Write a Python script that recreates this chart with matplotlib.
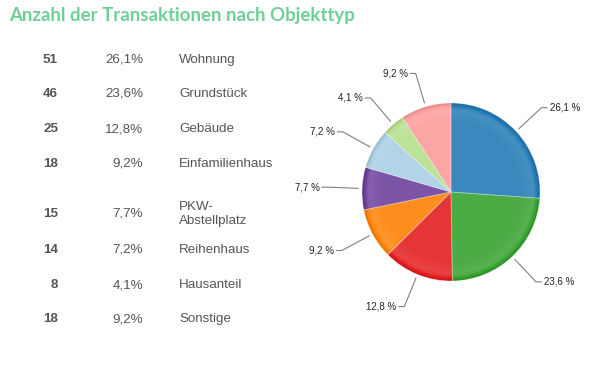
import numpy as np
import matplotlib.pyplot as plt
from matplotlib.colors import to_rgb

W, H = 592, 379

counts = [51, 46, 25, 18, 15, 14, 8, 18]
shares = [26.1, 23.6, 12.8, 9.2, 7.7, 7.2, 4.1, 9.2]
categories = ["Wohnung", "Grundstück", "Gebäude", "Einfamilienhaus",
              "PKW-\nAbstellplatz", "Reihenhaus", "Hausanteil", "Sonstige"]
colors = ["#1f78b4", "#33a02c", "#e31a1c", "#ff7f00",
          "#6a3d9a", "#a6cee3", "#b2df8a", "#fb9a99"]

title = "Anzahl der Transaktionen nach Objekttyp"


def px(x, y):
    return x / W, 1 - y / H


def shade(c, f):
    c = np.array(to_rgb(c))
    if f >= 0:
        return tuple(c + (1 - c) * f)
    return tuple(c * (1 + f))


fig = plt.figure(figsize=(W / 100, H / 100), dpi=100)
fig.patch.set_facecolor("white")

fig.text(*px(9, 16), title, color="#6fd097", fontsize=13.4,
         fontweight="bold", family="Lato", va="center", ha="left")

# table on the left
row_y = [60, 94, 129, 164, 214, 250, 285, 319]
for y, n, s, cat in zip(row_y, counts, shares, categories):
    fig.text(*px(58, y), str(n), ha="right", va="center", fontsize=9.6,
             fontweight="bold", color="#555555", family="Liberation Sans")
    fig.text(*px(143, y), f"{s:.1f}%".replace(".", ","), ha="right",
             va="center", fontsize=9.6, color="#555555", family="Liberation Sans")
    fig.text(*px(179, y), cat, ha="left", va="center", fontsize=9.6,
             color="#555555", family="Liberation Sans", linespacing=1.15)

# pie
cx, cy, R = 451, 192, 89
half = 1.6
ax = fig.add_axes([(cx - half * R) / W, (H - cy - half * R) / H,
                   2 * half * R / W, 2 * half * R / H])

# radial shading: full pies stacked from outside in (no seams)
radii = np.linspace(1.0, 0.0, 41)[:-1]
for r in radii:
    if r > 0.94:
        f = -0.08 + (1 - r) / 0.06 * 0.26
    elif r > 0.8:
        f = 0.18 - (0.94 - r) / 0.14 * 0.06
    else:
        f = 0.12
    ax.pie(shares, radius=r, startangle=90, counterclock=False,
           colors=[shade(c, f) for c in colors],
           wedgeprops=dict(linewidth=0, antialiased=True))

# thin light separators
ax.pie(shares, radius=1.0, startangle=90, counterclock=False,
       colors=["none"] * len(shares),
       wedgeprops=dict(linewidth=0.5, edgecolor=(1, 1, 1, 0.4)))

ax.set_xlim(-half, half)
ax.set_ylim(-half, half)
ax.set_aspect("equal")
ax.axis("off")

# labels with leader lines
total = sum(shares)
cum = np.cumsum([0] + shares)
for i, s in enumerate(shares):
    mid = (cum[i] + s / 2) / total * 2 * np.pi
    ang = np.pi / 2 - mid
    dx, dy = np.cos(ang), np.sin(ang)
    x1, y1 = 1.045 * dx, 1.045 * dy
    x2, y2 = 1.39 * dx, 1.39 * dy
    side = 1 if dx >= 0 else -1
    x3 = x2 + side * 0.06
    ax.plot([x1, x2, x3], [y1, y2, y2], color="#808080", lw=0.8,
            clip_on=False)
    ax.text(x3 + side * 0.03, y2, f"{s:.1f} %".replace(".", ","),
            ha="left" if side > 0 else "right", va="center", fontsize=7,
            color="#222222", family="Liberation Sans", clip_on=False)

fig.savefig("out.png", dpi=100)
